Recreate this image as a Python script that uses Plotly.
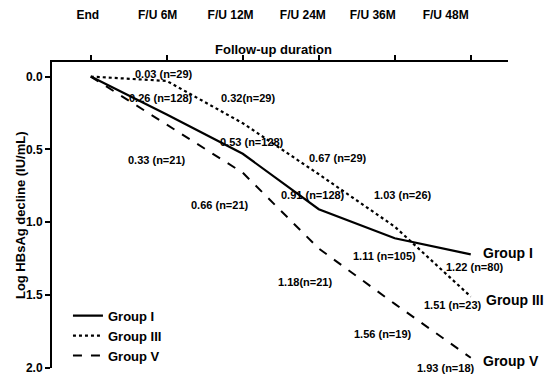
import plotly.graph_objects as go

# ---- data ----
timepoints = ["End", "F/U 6M", "F/U 12M", "F/U 24M", "F/U 36M", "F/U 48M"]
group_names = ["Group I", "Group III", "Group V"]
group1 = [0.0, 0.26, 0.53, 0.91, 1.11, 1.22]
group3 = [0.0, 0.03, 0.32, 0.67, 1.03, 1.51]
group5 = [0.0, 0.33, 0.66, 1.18, 1.56, 1.93]
n1 = [None, 128, 128, 128, 105, 80]
n3 = [None, 29, 29, 29, 26, 23]
n5 = [None, 21, 21, 21, 19, 18]
y_ticks = [0.0, 0.5, 1.0, 1.5, 2.0]

# ---- label placement (data units) ----
lab1_pos = [None, (0.93, 0.15), (2.12, 0.45), (2.92, 0.81), (3.87, 1.23), (5.05, 1.31)]
lab3_pos = [None, (0.97, -0.02), (2.07, 0.15), (3.25, 0.56), (4.11, 0.81), (4.76, 1.57)]
lab5_pos = [None, (0.87, 0.57), (1.70, 0.88), (2.82, 1.41), (3.84, 1.77), (4.68, 2.00)]
lab3_fmt = [None, "{v:.2f} (n={n})", "{v:.2f}(n={n})", "{v:.2f} (n={n})", "{v:.2f} (n={n})", "{v:.2f} (n={n})"]
lab5_fmt = [None, "{v:.2f} (n={n})", "{v:.2f} (n={n})", "{v:.2f}(n={n})", "{v:.2f} (n={n})", "{v:.2f} (n={n})"]
end_label_pos = [(5.13, 1.21), (5.18, 1.53), (5.14, 1.95)]
toplabel_pos = [-0.04, 0.88, 1.84, 2.79, 3.71, 4.67]

FONT = "Liberation Sans"
x = list(range(len(timepoints)))

fig = go.Figure()
styles = [("solid", 2.2), ("dot", 2.2), ("dash", 2.0)]
for name, vals, (dash, w) in zip(group_names, [group1, group3, group5], styles):
    fig.add_trace(go.Scatter(x=x, y=vals, mode="lines", name="<b>" + name + "</b>",
                             line=dict(color="black", dash=dash, width=w)))

fig.add_trace(go.Scatter(x=[x[0], x[-1]], y=[0, 0], xaxis="x2", mode="lines",
                         line=dict(width=0), showlegend=False, hoverinfo="skip"))

ann = []
for vals, ns, pos, fmts in [(group1, n1, lab1_pos, ["{v:.2f} (n={n})"] * 6),
                            (group3, n3, lab3_pos, lab3_fmt),
                            (group5, n5, lab5_pos, lab5_fmt)]:
    for i in range(1, len(vals)):
        px, py = pos[i]
        ann.append(dict(x=px, y=py, xref="x", yref="y", showarrow=False,
                        text="<b>" + fmts[i].format(v=vals[i], n=ns[i]) + "</b>",
                        font=dict(family=FONT, size=11, color="black")))
for name, (px, py) in zip(group_names, end_label_pos):
    ann.append(dict(x=px, y=py, xref="x", yref="y", showarrow=False, xanchor="left",
                    text="<b>" + name + "</b>",
                    font=dict(family=FONT, size=14, color="black")))
ann.append(dict(x=0.485, y=1.0, xref="paper", yref="paper", yshift=3, showarrow=False,
                yanchor="bottom", text="<b>Follow-up duration</b>",
                font=dict(family=FONT, size=13, color="black")))
ann.append(dict(x=-0.081, y=0.5, xref="paper", yref="paper", showarrow=False,
                xanchor="center", yanchor="middle", xshift=5,
                textangle=-90, text="<b>Log HBsAg decline (IU/mL)</b>",
                font=dict(family=FONT, size=13, color="black")))

fig.update_layout(
    width=550, height=379,
    margin=dict(l=52, r=42, t=62, b=11, autoexpand=False),
    paper_bgcolor="white", plot_bgcolor="white",
    showlegend=True,
    legend=dict(x=0.035, y=0.22, xanchor="left", yanchor="top",
                bgcolor="rgba(0,0,0,0)", borderwidth=0,
                font=dict(family=FONT, size=13, color="black"),
                itemwidth=30, tracegroupgap=0),
    xaxis=dict(side="top", range=[-0.51, 5.49], tickvals=x, showticklabels=False,
               showline=True, linecolor="black", linewidth=2, ticks="outside",
               ticklen=5, tickwidth=1.5, tickcolor="black", showgrid=False, zeroline=False,
               automargin=False),
    xaxis2=dict(overlaying="x", side="top", range=[-0.51, 5.49], anchor="y",
                tickvals=toplabel_pos, ticktext=["<b>%s</b>" % t for t in timepoints],
                showline=False, ticks="", showgrid=False, zeroline=False,
                ticklabelstandoff=40, automargin=False,
                tickfont=dict(family=FONT, size=12, color="black")),
    yaxis=dict(range=[2.0, -0.1], tickvals=y_ticks,
               ticktext=["<b>%.1f</b>" % v for v in y_ticks],
               showline=True, linecolor="black", linewidth=2, ticks="outside",
               ticklen=5, tickwidth=1.5, tickcolor="black", showgrid=False, zeroline=False,
               automargin=False,
               tickfont=dict(family=FONT, size=12, color="black")),
    annotations=ann,
)

fig.write_html("out.html", config={"displayModeBar": False},
               post_script="document.body.style.margin='0px';document.body.style.overflow='hidden';")
